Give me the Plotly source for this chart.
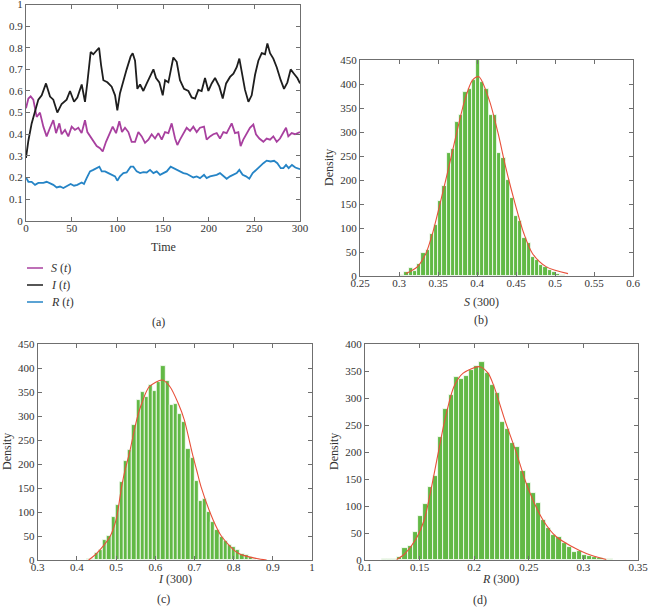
import plotly.graph_objects as go

# ---------------- data: panel (a) time series ----------------
t_I = [0, 2.6, 6.2, 9.9, 13.5, 17.2, 21.9, 26.3, 29.9, 34.3, 39.0, 44.5, 48.2, 52.6, 56.2, 61.0, 64.6, 67.2, 70.8, 73.7, 77.4, 80.0, 82.2, 84.7, 89.1, 93.8, 97.5, 100.0, 102.9, 106.6, 110.2, 114.6, 116.8, 119.4, 121.9, 124.9, 128.5, 132.2, 135.8, 139.5, 142.4, 146.0, 149.7, 152.3, 155.9, 158.4, 161.3, 165.0, 168.6, 173.0, 177.8, 181.4, 185.1, 188.7, 192.3, 196.0, 199.7, 203.3, 207.0, 211.7, 215.4, 219.1, 223.4, 227.1, 230.7, 233.6, 236.2, 239.8, 243.5, 247.1, 250.8, 254.4, 258.1, 261.7, 264.3, 267.2, 270.8, 274.5, 278.9, 282.5, 286.2, 289.8, 293.4, 297.1, 300.0]
I_vals = [0.29, 0.37, 0.45, 0.50, 0.56, 0.58, 0.635, 0.574, 0.56, 0.50, 0.54, 0.56, 0.60, 0.55, 0.57, 0.63, 0.55, 0.64, 0.78, 0.77, 0.79, 0.80, 0.72, 0.65, 0.64, 0.62, 0.58, 0.51, 0.59, 0.65, 0.70, 0.76, 0.775, 0.74, 0.61, 0.63, 0.60, 0.635, 0.665, 0.70, 0.66, 0.64, 0.58, 0.65, 0.64, 0.69, 0.755, 0.735, 0.65, 0.61, 0.60, 0.57, 0.565, 0.605, 0.60, 0.66, 0.60, 0.635, 0.66, 0.62, 0.565, 0.635, 0.665, 0.68, 0.71, 0.75, 0.68, 0.605, 0.55, 0.58, 0.675, 0.74, 0.775, 0.77, 0.82, 0.775, 0.75, 0.71, 0.65, 0.61, 0.64, 0.70, 0.68, 0.66, 0.635]

t_S = [0, 2.6, 5.1, 8.0, 11.7, 15.3, 19.0, 22.6, 26.3, 29.9, 32.9, 36.5, 39.0, 42.7, 46.3, 50.0, 53.6, 57.3, 60.9, 64.6, 67.2, 70.1, 73.7, 77.4, 81.0, 84.0, 87.6, 91.3, 94.9, 98.6, 102.2, 105.1, 108.4, 112.1, 115.7, 119.4, 123.0, 126.7, 130.3, 134.0, 137.6, 141.3, 144.9, 148.6, 152.2, 155.9, 159.5, 163.2, 165.7, 168.6, 172.3, 175.9, 179.6, 183.2, 186.9, 190.5, 194.9, 197.8, 201.5, 205.1, 208.8, 212.4, 216.1, 219.7, 225.2, 228.8, 232.5, 235.0, 237.9, 241.6, 245.2, 248.9, 251.8, 255.5, 259.9, 263.5, 267.2, 270.8, 274.5, 278.1, 281.8, 284.7, 287.2, 290.9, 294.5, 300.0]
S_vals = [0.52, 0.565, 0.575, 0.56, 0.48, 0.50, 0.435, 0.39, 0.43, 0.465, 0.405, 0.45, 0.40, 0.42, 0.39, 0.435, 0.42, 0.43, 0.405, 0.465, 0.41, 0.39, 0.365, 0.345, 0.335, 0.32, 0.365, 0.405, 0.435, 0.405, 0.46, 0.41, 0.43, 0.41, 0.365, 0.365, 0.41, 0.39, 0.36, 0.375, 0.40, 0.38, 0.405, 0.375, 0.41, 0.405, 0.45, 0.38, 0.35, 0.375, 0.40, 0.43, 0.415, 0.435, 0.41, 0.43, 0.435, 0.375, 0.39, 0.40, 0.405, 0.38, 0.41, 0.405, 0.45, 0.405, 0.41, 0.345, 0.375, 0.405, 0.43, 0.445, 0.40, 0.38, 0.365, 0.38, 0.375, 0.39, 0.365, 0.38, 0.405, 0.43, 0.39, 0.405, 0.40, 0.41]

t_R = [0, 2.6, 6.2, 9.9, 13.5, 19.0, 22.6, 26.3, 29.9, 33.6, 37.2, 40.9, 44.5, 48.9, 52.6, 56.2, 61.0, 63.5, 66.4, 70.1, 73.7, 77.4, 80.3, 82.9, 86.5, 90.2, 93.8, 97.5, 100.0, 102.9, 106.6, 110.2, 114.6, 117.5, 121.2, 124.9, 128.5, 132.2, 135.8, 139.5, 143.1, 146.8, 150.4, 154.1, 158.4, 161.3, 165.0, 168.6, 172.3, 175.9, 179.6, 183.2, 186.9, 190.5, 194.9, 197.8, 201.5, 205.1, 208.8, 212.4, 216.1, 219.7, 223.4, 227.0, 230.7, 233.6, 237.2, 240.9, 244.5, 248.2, 251.8, 255.5, 259.9, 263.5, 267.9, 271.6, 275.2, 278.9, 281.8, 284.7, 287.6, 291.2, 294.9, 300.0]
R_vals = [0.20, 0.18, 0.18, 0.166, 0.175, 0.175, 0.18, 0.174, 0.166, 0.154, 0.158, 0.151, 0.158, 0.17, 0.162, 0.166, 0.177, 0.17, 0.197, 0.228, 0.235, 0.243, 0.25, 0.228, 0.228, 0.22, 0.212, 0.205, 0.185, 0.205, 0.22, 0.223, 0.25, 0.25, 0.228, 0.22, 0.225, 0.223, 0.235, 0.22, 0.228, 0.212, 0.22, 0.228, 0.25, 0.243, 0.235, 0.228, 0.22, 0.217, 0.208, 0.20, 0.205, 0.197, 0.212, 0.197, 0.205, 0.208, 0.212, 0.22, 0.205, 0.194, 0.205, 0.212, 0.22, 0.235, 0.212, 0.205, 0.194, 0.22, 0.235, 0.25, 0.266, 0.278, 0.274, 0.277, 0.266, 0.243, 0.243, 0.258, 0.243, 0.258, 0.246, 0.238]

time_ticks = [0, 50, 100, 150, 200, 250, 300]
frac_ticks = [0, 0.1, 0.2, 0.3, 0.4, 0.5, 0.6, 0.7, 0.8, 0.9, 1]
legend_names = ["<i>S</i> (<i>t</i>)", "<i>I</i> (<i>t</i>)", "<i>R</i> (<i>t</i>)"]

# ---------------- data: panel (b) S(300) histogram ----------------
S_bin_start = 0.2989
S_bin_width = 0.0054
S_counts = [1, 2, 8, 17, 10, 24, 48, 54, 87, 106, 156, 187, 257, 264, 321, 335, 384, 389, 408, 450,
            405, 390, 335, 336, 257, 245, 200, 163, 124, 115, 79, 68, 40, 33, 22, 18, 12, 8, 4, 2]
S_fit_x = [0.3089, 0.3234, 0.3345, 0.3430, 0.3537, 0.3640, 0.3738, 0.3844, 0.3943, 0.4024, 0.4156, 0.4271, 0.4366, 0.4476, 0.4600, 0.4711, 0.4890, 0.5167]
S_fit_y = [5, 19, 47, 89, 158, 228, 297, 367, 408, 415, 367, 297, 228, 158, 89, 47, 19, 5]

# ---------------- data: panel (c) I(300) histogram ----------------
I_bin_start = 0.419
I_bin_width = 0.0106
I_counts = [1, 3, 3, 14, 21, 42, 50, 90, 115, 163, 206, 229, 281, 333, 351, 339, 365, 352, 370, 404,
            372, 322, 325, 305, 287, 231, 212, 165, 123, 127, 100, 80, 62, 48, 40, 31, 28, 21, 12, 10, 6, 3, 1]
I_fit_x = [0.43, 0.4505, 0.4845, 0.4998, 0.5143, 0.5228, 0.5338, 0.5526, 0.5654, 0.5848, 0.618, 0.6376, 0.6588, 0.6741, 0.6945, 0.7057, 0.7167, 0.748, 0.7695, 0.8119, 0.8588, 0.8843]
I_fit_y = [0, 14, 49, 83, 153, 187, 222, 292, 326, 361, 375, 361, 326, 292, 222, 187, 153, 83, 49, 14, 3, 0]

# ---------------- data: panel (d) R(300) histogram ----------------
R_bin_start = 0.1178
R_bin_width = 0.0047
R_counts = [1, 2, 2, 5, 22, 26, 52, 81, 104, 136, 156, 228, 279, 305, 338, 336, 340, 352, 359, 367,
            347, 324, 310, 256, 243, 216, 210, 164, 143, 125, 105, 75, 60, 46, 42, 31, 25, 15, 17, 9, 7, 5, 3, 2, 1]
R_fit_x = [0.129, 0.1366, 0.1478, 0.1542, 0.161, 0.167, 0.1731, 0.1814, 0.1899, 0.2051, 0.2127, 0.2182, 0.2281, 0.2387, 0.2487, 0.263, 0.2752, 0.3027, 0.3209]
R_fit_y = [1, 12, 43, 74, 136, 198, 259, 321, 346, 358, 346, 321, 259, 198, 136, 74, 43, 12, 1]

# ---------------- styling ----------------
W, H = 649, 612
FONT = "Liberation Serif"
GREEN = "#62B946"
RED = "#E8503A"
C_S = "#A8409F"
C_I = "#1E1E1E"
C_R = "#2584C6"
TXT = "#333333"

def px_x(p):
    return p / W

def px_y(p):
    return 1 - p / H

fig = go.Figure()

# panel (a)
for tt, vv, col in [(t_S, S_vals, C_S), (t_I, I_vals, C_I), (t_R, R_vals, C_R)]:
    fig.add_trace(go.Scatter(x=tt, y=vv, mode="lines", line=dict(color=col, width=1.8),
                             showlegend=False, xaxis="x", yaxis="y"))

def centers(start, width, n):
    return [start + width * i for i in range(n)]

hists = [
    (S_bin_start, S_bin_width, S_counts, S_fit_x, S_fit_y, "x2", "y2"),
    (I_bin_start, I_bin_width, I_counts, I_fit_x, I_fit_y, "x3", "y3"),
    (R_bin_start, R_bin_width, R_counts, R_fit_x, R_fit_y, "x4", "y4"),
]
for start, width, counts, fx, fy, xa, ya in hists:
    fig.add_trace(go.Bar(x=centers(start, width, len(counts)), y=counts, width=width,
                         marker=dict(color=GREEN, line=dict(color="white", width=0.8)),
                         showlegend=False, xaxis=xa, yaxis=ya))
    fig.add_trace(go.Scatter(x=fx, y=fy, mode="lines",
                             line=dict(color=RED, width=1.1, shape="spline", smoothing=0.8),
                             showlegend=False, xaxis=xa, yaxis=ya))

axis_common = dict(showline=True, linecolor="#6f6f6f", linewidth=1, mirror="ticks", ticks="inside",
                   ticklen=4, tickcolor="#6f6f6f", showgrid=False, zeroline=False, automargin=False,
                   ticklabeloverflow="allow",
                   tickfont=dict(family=FONT, size=11, color=TXT))
xaxis_extra = dict(ticklabelstandoff=-3)

fig.update_layout(
    template="none",
    width=W, height=H, margin=dict(l=0, r=0, t=0, b=0, pad=0),
    plot_bgcolor="white", paper_bgcolor="white", bargap=0, showlegend=False,
    xaxis=dict(domain=[px_x(26), px_x(300)], range=[0, 300], tickvals=time_ticks, anchor="y",
               **axis_common, **xaxis_extra),
    yaxis=dict(domain=[px_y(220.7), px_y(4.5)], range=[0, 1], tickvals=frac_ticks, anchor="x", **axis_common),
    xaxis2=dict(domain=[px_x(360), px_x(633)], range=[0.25, 0.6],
                tickvals=[0.25, 0.3, 0.35, 0.4, 0.45, 0.5, 0.55, 0.6], anchor="y2",
                **axis_common, **xaxis_extra),
    yaxis2=dict(domain=[px_y(276), px_y(60)], range=[0, 450], dtick=50, anchor="x2", **axis_common),
    xaxis3=dict(domain=[px_x(37.7), px_x(312)], range=[0.3, 1],
                tickvals=[0.3, 0.4, 0.5, 0.6, 0.7, 0.8, 0.9, 1], anchor="y3",
                **axis_common, **xaxis_extra),
    yaxis3=dict(domain=[px_y(560), px_y(344)], range=[0, 450], dtick=50, anchor="x3", **axis_common),
    xaxis4=dict(domain=[px_x(365), px_x(638)], range=[0.1, 0.35],
                tickvals=[0.1, 0.15, 0.2, 0.25, 0.3, 0.35], anchor="y4",
                **axis_common, **xaxis_extra),
    yaxis4=dict(domain=[px_y(560), px_y(344)], range=[0, 400], dtick=50, anchor="x4", **axis_common),
)

def label(x, y, text, angle=0, size=12, xanchor="center"):
    fig.add_annotation(x=px_x(x), y=px_y(y), xref="paper", yref="paper", text=text, showarrow=False,
                       textangle=angle, font=dict(family=FONT, size=size, color=TXT),
                       xanchor=xanchor, yanchor="middle")

# manual legend for panel (a)
for name, col, yy in zip(legend_names, [C_S, C_I, C_R], [268, 285, 302]):
    fig.add_shape(type="line", xref="paper", yref="paper", x0=px_x(27), x1=px_x(43),
                  y0=px_y(yy), y1=px_y(yy), line=dict(color=col, width=1.5))
    label(49, yy, name, xanchor="left")

label(163, 247, "Time")
label(158, 322, "(a)")
label(481, 302, "<i>S</i> (300)")
label(329, 168, "Density", angle=-90)
label(481, 320, "(b)")
label(175, 579, "<i>I</i> (300)")
label(7, 452, "Density", angle=-90)
label(163, 599, "(c)")
label(500, 579, "<i>R</i> (300)")
label(334, 452, "Density", angle=-90)
label(480, 600, "(d)")

fig.write_html("out.html", config={"displayModeBar": False},
               post_script="document.body.style.margin='0';document.body.style.overflow='hidden';")
